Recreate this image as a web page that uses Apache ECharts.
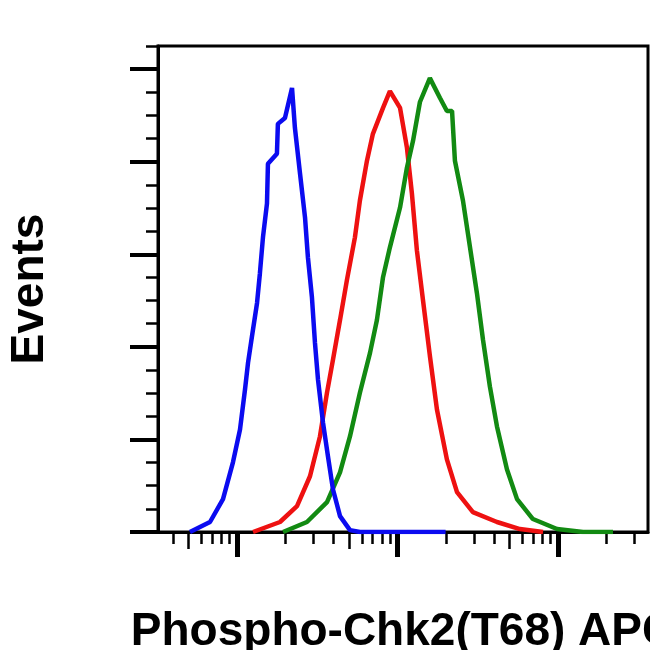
<!DOCTYPE html>
<html>
<head>
<meta charset="utf-8">
<script src="https://cdn.jsdelivr.net/npm/echarts@6/dist/echarts.min.js"></script>
<style>
html,body{margin:0;padding:0;background:#fff;}
#chart{width:650px;height:650px;}
</style>
</head>
<body>
<div id="chart"></div>
<script>
// x values are log10(fluorescence intensity); y values are events (in tick units)
const blueX = [1.707,1.832,1.913,1.975,2.019,2.050,2.069,2.093,2.125,2.143,2.162,2.187,2.193,2.249,2.255,2.299,2.343,2.361,2.393,2.424,2.442,2.467,2.486,2.505,2.536,2.567,2.598,2.642,2.704,2.766,3.0,3.3];
const blueY = [0,0.108,0.355,0.753,1.108,1.538,1.828,2.108,2.473,2.796,3.183,3.548,3.978,4.086,4.409,4.473,4.796,4.366,3.871,3.398,2.968,2.538,2.043,1.645,1.183,0.817,0.462,0.172,0.02,0,0,0];
const redX = [2.100,2.268,2.374,2.455,2.517,2.561,2.598,2.642,2.685,2.735,2.766,2.810,2.847,2.910,2.953,3.016,3.059,3.090,3.121,3.159,3.202,3.246,3.308,3.371,3.470,3.620,3.763,3.907];
const redY = [0,0.108,0.280,0.602,1.032,1.505,1.860,2.290,2.720,3.183,3.581,4.011,4.301,4.581,4.763,4.581,4.151,3.656,3.043,2.505,1.903,1.323,0.785,0.430,0.215,0.108,0.032,0];
const greenX = [2.287,2.436,2.561,2.642,2.704,2.766,2.829,2.872,2.910,2.953,3.016,3.059,3.097,3.140,3.202,3.265,3.308,3.340,3.358,3.408,3.452,3.495,3.533,3.576,3.620,3.682,3.745,3.844,3.994,4.156,4.343];
const greenY = [0,0.108,0.323,0.645,1.032,1.505,1.935,2.290,2.753,3.075,3.505,3.935,4.226,4.645,4.903,4.688,4.548,4.548,4.011,3.581,3.075,2.581,2.075,1.570,1.140,0.677,0.355,0.140,0.032,0,0];

// axis tick definitions
const decades = [1, 2, 3, 4];
const majorDecadeTicks = [2, 3, 4];
const minorMultipliers = [2, 3, 4, 6, 7, 8, 9];
const midMultipliers = [5];
const yMajorTicks = [0, 1, 2, 3, 4, 5];
const yMinorStep = 0.25;

const xMin = 1.508, xMax = 4.561, yMax = 5.25;

function logTicks(mults) {
  const out = [];
  decades.forEach(d => mults.forEach(m => {
    const v = Math.log10(m) + d;
    if (v > xMin && v < xMax) out.push(v);
  }));
  return out;
}
const yMinor = [];
for (let v = 0; v <= yMax + 1e-9; v += yMinorStep) {
  if (!yMajorTicks.some(t => Math.abs(t - v) < 1e-6)) yMinor.push(+v.toFixed(2));
}

const zip = (xs, ys) => xs.map((x, i) => [x, ys[i]]);
const black = '#000';
const font = "'Liberation Sans', Arial, sans-serif";

function xAx(ticks, len, w, extra) {
  return Object.assign({
    type: 'value', min: xMin, max: xMax, position: 'bottom',
    axisLine: { show: false },
    axisTick: { show: true, customValues: ticks, length: len, lineStyle: { color: black, width: w } },
    axisLabel: { show: false },
    splitLine: { show: false }
  }, extra || {});
}
function yAx(ticks, len, w, extra) {
  return Object.assign({
    type: 'value', min: 0, max: yMax, position: 'left',
    axisLine: { show: false },
    axisTick: { show: true, customValues: ticks, length: len, lineStyle: { color: black, width: w } },
    axisLabel: { show: false },
    splitLine: { show: false }
  }, extra || {});
}

const chart = echarts.init(document.getElementById('chart'), null, { renderer: 'canvas' });
chart.setOption({
  backgroundColor: '#fff',
  animation: false,
  grid: { left: 158, right: 2, top: 46, bottom: 118, containLabel: false, outerBoundsMode: 'none', show: true, borderColor: black, borderWidth: 3, backgroundColor: 'transparent' },
  xAxis: [
    xAx(majorDecadeTicks, 25, 5, {
      axisLine: { show: true, lineStyle: { color: black, width: 3 } },
      name: 'Phospho-Chk2(T68) APC', nameLocation: 'middle', nameGap: 77,
      nameTextStyle: { fontFamily: font, fontWeight: 'bold', fontSize: 46, color: '#000' }
    }),
    xAx(logTicks(minorMultipliers), 12, 2.5),
    xAx(logTicks(midMultipliers), 17, 2.5)
  ],
  yAxis: [
    yAx(yMajorTicks, 28, 4, {
      axisLine: { show: true, lineStyle: { color: black, width: 3 } },
      name: 'Events', nameLocation: 'middle', nameGap: 105,
      nameTextStyle: { fontFamily: font, fontWeight: 'bold', fontSize: 46, color: '#000' }
    }),
    yAx(yMinor, 12, 2.5)
  ],
  series: [
    { type: 'line', name: 'red', data: zip(redX, redY), showSymbol: false, symbol: 'none', lineStyle: { color: '#ee1111', width: 4.5 }, z: 3 },
    { type: 'line', name: 'green', data: zip(greenX, greenY), showSymbol: false, symbol: 'none', lineStyle: { color: '#128a12', width: 4.5 }, z: 4 },
    { type: 'line', name: 'blue', data: zip(blueX, blueY), showSymbol: false, symbol: 'none', lineStyle: { color: '#0b0bf0', width: 4.5 }, z: 5 }
  ]
});
</script>
</body>
</html>
